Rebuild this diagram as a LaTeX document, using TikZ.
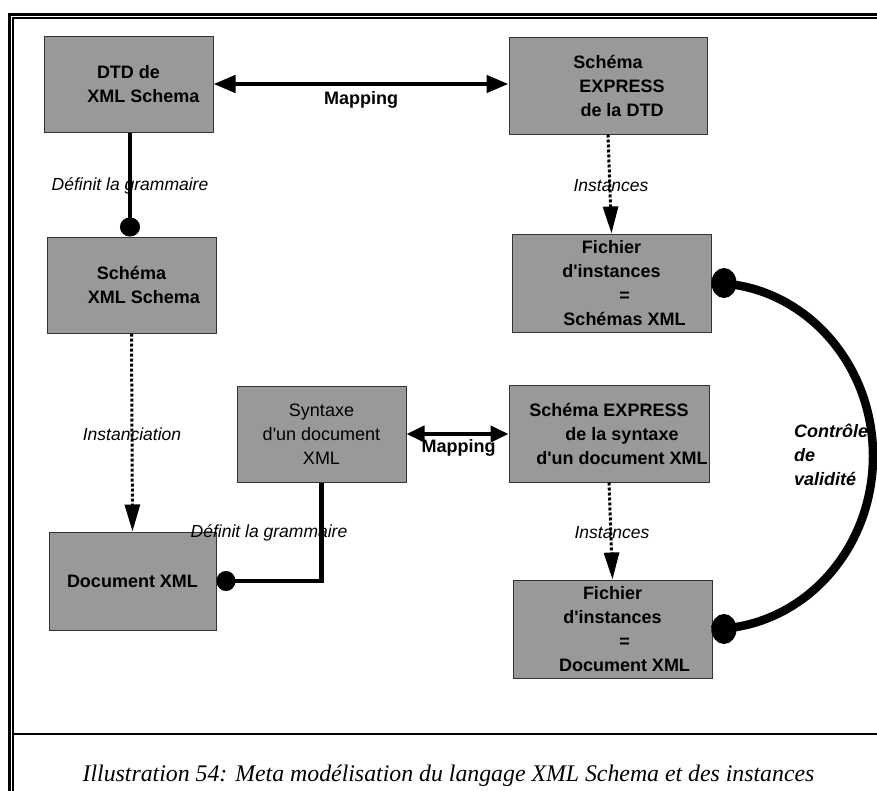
\documentclass[tikz,border=0pt]{standalone}
\usepackage{fontspec}
\setmainfont{Liberation Sans}
\newfontfamily\capfont{Liberation Serif}
\usetikzlibrary{arrows.meta,calc}

\definecolor{boxgray}{HTML}{999999}
\newcommand{\apos}{\textquotesingle}

\tikzset{
  box/.style={draw=black!80, line width=1pt, fill=boxgray, inner sep=0pt,
    align=center, font=\fontsize{18}{24}\selectfont\bfseries},
  plainbox/.style={box, font=\fontsize{18}{24}\selectfont},
  lbl/.style={inner sep=0pt, anchor=base, font=\fontsize{17.5}{21}\selectfont\itshape},
  maplbl/.style={inner sep=0pt, anchor=base, font=\fontsize{18}{21}\selectfont\bfseries},
  mapping/.style={line width=4.5pt, {Triangle[length=22pt,width=17pt]}-{Triangle[length=22pt,width=17pt]}},
  mappingsmall/.style={line width=4pt, {Triangle[length=18pt,width=16pt]}-{Triangle[length=18pt,width=16pt]}},
  inst/.style={line width=3pt, dash pattern=on 3pt off 2pt, -{Triangle[length=27pt,width=15pt]}},
  grammar/.style={line width=4.5pt, -{Circle[length=19pt,width=20pt]}},
  valid/.style={line width=8.5pt},
}

\begin{document}
\begin{tikzpicture}[x=1pt,y=-1pt]
  \useasboundingbox (0,0) rectangle (877,790);

  % double frame, open on the right and at the bottom
  \draw[line width=2.6pt] (9.3,800) -- (9.3,14.5) -- (890,14.5);
  \draw[line width=2pt] (13.3,800) -- (13.3,18.3) -- (890,18.3);
  % rule above the caption
  \draw[line width=2pt] (13.3,733.7) -- (890,733.7);

  % boxes
  \node[box, minimum width=169pt, minimum height=96pt] (dtd) at (128.5,84)
    {DTD de\\\hspace*{30pt}XML Schema};
  \node[box, minimum width=169pt, minimum height=96pt] (xsd) at (131.5,285)
    {Schéma\\\hspace*{25pt}XML Schema};
  \node[box, minimum width=198pt, minimum height=97pt] (exp) at (608,85.5)
    {Schéma\\\hspace*{28pt}EXPRESS\\\hspace*{28pt}de la DTD};
  \node[box, minimum width=199pt, minimum height=98pt] (fic1) at (611.5,283)
    {Fichier\\d\apos instances\\\hspace*{26pt}=\\\hspace*{26pt}Schémas XML};
  \node[plainbox, minimum width=169pt, minimum height=96pt] (syn) at (321.5,434)
    {Syntaxe\\d\apos un document\\XML};
  \node[box, minimum width=200pt, minimum height=97pt] (expsyn) at (609,433.5)
    {Schéma EXPRESS\\\hspace*{26pt}de la syntaxe\\\hspace*{26pt}d\apos un document XML};
  \node[box, minimum width=167pt, minimum height=98pt] (doc) at (132.5,581)
    {Document XML};
  \node[box, minimum width=199pt, minimum height=98pt] (fic2) at (612.5,629)
    {Fichier\\d\apos instances\\\hspace*{24pt}=\\\hspace*{24pt}Document XML};

  % connectors
  \draw[mapping] (dtd.east) -- (dtd.east -| exp.west);
  \draw[mappingsmall] (syn.east) -- (syn.east -| expsyn.west);
  \draw[grammar] ([xshift=1.5pt]dtd.south) -- ([xshift=-1.5pt]xsd.north);
  \draw[grammar] (syn.south) |- (doc.east);
  \draw[inst] (xsd.south) -- (doc.north);
  \draw[inst] (exp.south) -- (fic1.north);
  \draw[inst] (expsyn.south) -- (fic2.north);

  % validity check between the two instance files
  \draw[valid] (fic1.east) arc[start angle=-90, end angle=90, x radius=161.5, y radius=173];
  \fill ([xshift=12.5pt]fic1.east) ellipse[x radius=12.5, y radius=15];
  \fill ([xshift=11.5pt]fic2.east) ellipse[x radius=12.5, y radius=15];

  % labels
  \node[maplbl] (m1) at (361,104) {Mapping};
  \node[maplbl] (m2) at (458.5,452) {Mapping};
  \node[lbl] (g1) at (130,190.5) {Définit la grammaire};
  \node[lbl] (g2) at (269,537.5) {Définit la grammaire};
  \node[lbl] (i1) at (611,191.5) {Instances};
  \node[lbl] (i2) at (612,538) {Instances};
  \node[lbl] (i3) at (132,440) {Instanciation};
  \node[inner sep=0pt, anchor=west, align=left,
        font=\fontsize{18}{24}\selectfont\bfseries\itshape] (ctl) at (794,455)
    {Contrôle\\de\\validité};

  % caption
  \node[inner sep=0pt, anchor=base, font=\capfont\itshape\fontsize{23.8}{28}\selectfont] (cap)
    at (448.5,781.7) {Illustration 54: Meta modélisation du langage XML Schema et des instances};
\end{tikzpicture}
\end{document}
